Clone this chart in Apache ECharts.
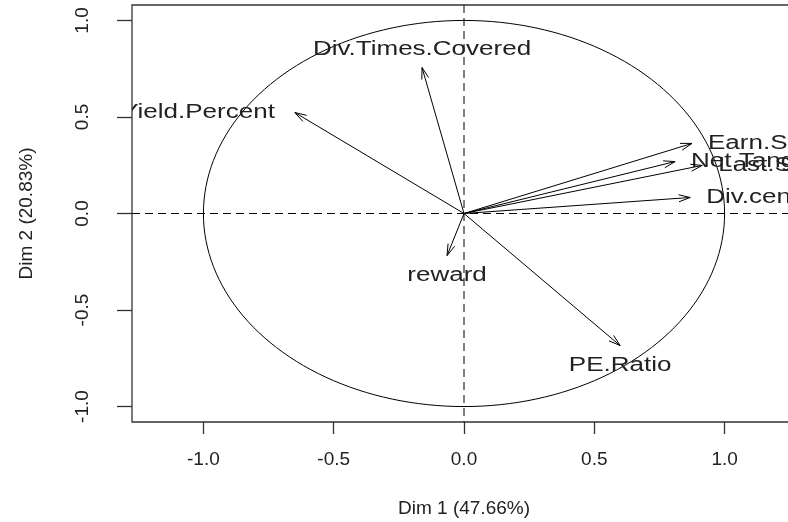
<!DOCTYPE html>
<html lang="en">
<head>
<meta charset="UTF-8">
<title>Variables factor map</title>
<script src="https://cdn.jsdelivr.net/npm/echarts@6/dist/echarts.min.js"></script>
<style>
  html, body { margin: 0; padding: 0; background: #fff; }
  #main { width: 788px; height: 522px; }
</style>
</head>
<body>
<div id="main"></div>
<script type="text/javascript">
    // variable coordinates on the first two dimensions
    var varNames = ['Div.Times.Covered', 'Yield.Percent', 'Earn.Share', 'Net.Tangible', 'Last.Sale', 'Div.cents', 'reward', 'PE.Ratio'];
    var dim1 = [-0.161, -0.649, 0.875, 0.810, 0.914, 0.868, -0.065, 0.599];
    var dim2 = [0.756, 0.523, 0.363, 0.269, 0.249, 0.083, -0.218, -0.684];
    var tickLabels = [-1, -0.5, 0, 0.5, 1];

    var FONT = '"Liberation Sans", Arial, sans-serif';
    var TXT = '#222';

    var myChart = echarts.init(document.getElementById('main'));

    var arrowData = varNames.map(function (n, i) { return [dim1[i], dim2[i], n]; });

    function renderArrow(params, api) {
        var o = api.coord([0, 0]);
        var p = api.coord([api.value(0), api.value(1)]);
        var name = varNames[params.dataIndex];
        var a = Math.atan2(p[1] - o[1], p[0] - o[0]);
        var len = 12, s = 0.3;
        var h1 = [p[0] - len * Math.cos(a - s), p[1] - len * Math.sin(a - s)];
        var h2 = [p[0] - len * Math.cos(a + s), p[1] - len * Math.sin(a + s)];
        // label goes on the side of the dominant coordinate
        var vx = api.value(0), vy = api.value(1);
        var lx = p[0], ly = p[1], align = 'center';
        if (Math.abs(vx) > Math.abs(vy)) {
            if (vx > 0) { lx = p[0] + 16; align = 'left'; }
            else { lx = p[0] - 20; align = 'right'; }
        } else {
            ly = vy > 0 ? p[1] - 18 : p[1] + 20;
        }
        var lineStyle = { stroke: '#000', lineWidth: 1, fill: null };
        return {
            type: 'group',
            children: [
                { type: 'line', shape: { x1: o[0], y1: o[1], x2: p[0], y2: p[1] }, style: lineStyle },
                { type: 'polyline', shape: { points: [h1, p, h2] }, style: lineStyle },
                {
                    type: 'text', x: lx, y: ly, scaleX: 1.3,
                    style: { text: name, x: 0, y: 0, align: align, verticalAlign: 'middle', fill: TXT, fontSize: 20, fontFamily: FONT }
                }
            ]
        };
    }

    function renderRefs(params, api) {
        var pts = [];
        for (var k = 0; k <= 360; k += 2) {
            var t = k * Math.PI / 180;
            pts.push(api.coord([Math.cos(t), Math.sin(t)]));
        }
        var top = api.coord([0, 1.08]), bot = api.coord([0, -1.08]);
        var lft = api.coord([-1.274, 0]), rgt = api.coord([1.274, 0]);
        var dash = { stroke: '#000', lineWidth: 1, lineDash: [8, 5] };
        return {
            type: 'group',
            children: [
                { type: 'polyline', shape: { points: pts }, style: { stroke: '#000', lineWidth: 1, fill: null } },
                { type: 'line', shape: { x1: top[0], y1: top[1], x2: bot[0], y2: bot[1] }, style: dash },
                { type: 'line', shape: { x1: lft[0], y1: lft[1], x2: rgt[0], y2: rgt[1] }, style: dash }
            ]
        };
    }

    myChart.setOption({
        animation: false,
        grid: {
            left: 132, top: 5, bottom: 100, width: 664,
            outerBoundsMode: 'none', containLabel: false,
            show: true, borderColor: '#333', borderWidth: 1.3, backgroundColor: '#fff'
        },
        xAxis: {
            type: 'value', min: -1.274, max: 1.274,
            name: 'Dim 1 (47.66%)', nameLocation: 'middle', nameGap: 77,
            nameTextStyle: { fontSize: 19, fontFamily: FONT, color: TXT },
            splitLine: { show: false },
            axisLine: { show: false, onZero: false },
            axisTick: { show: true, length: 12, customValues: tickLabels, lineStyle: { color: '#333', width: 1.3 } },
            axisLabel: {
                customValues: tickLabels, margin: 28, fontSize: 19, fontFamily: FONT, color: TXT,
                formatter: function (v) { return v.toFixed(1); }
            }
        },
        yAxis: {
            type: 'value', min: -1.08, max: 1.08,
            name: 'Dim 2 (20.83%)', nameLocation: 'middle', nameGap: 96, nameRotate: 90,
            nameTextStyle: { fontSize: 19, fontFamily: FONT, color: TXT },
            splitLine: { show: false },
            axisLine: { show: false, onZero: false },
            axisTick: { show: true, length: 15, customValues: tickLabels, lineStyle: { color: '#333', width: 1.3 } },
            axisLabel: {
                customValues: tickLabels, rotate: 90, margin: 40, fontSize: 19, fontFamily: FONT, color: TXT,
                formatter: function (v) { return v.toFixed(1); }
            }
        },
        series: [
            { type: 'custom', name: 'refs', clip: true, silent: true, data: [[0, 0]], renderItem: renderRefs },
            { type: 'custom', name: 'variables', clip: true, data: arrowData, renderItem: renderArrow }
        ]
    });
</script>
</body>
</html>
